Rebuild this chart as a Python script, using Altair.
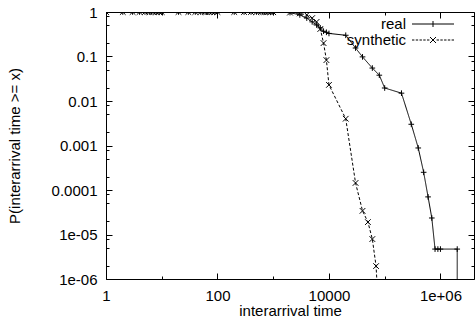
import json
import altair as alt
import pandas as pd

# ---- data ----
real_x = [1, 2, 3, 4, 5, 6, 7, 8, 9, 10,
          20, 30, 40, 50, 60, 70, 80, 90, 100,
          200, 300, 400, 500, 600, 700, 800, 900, 1000,
          2000, 3000, 4000, 5000, 6000, 7000, 8000, 9000, 10000,
          20000, 30000, 40000, 60000, 80000, 100000, 200000,
          300000, 400000, 500000, 600000, 700000, 800000, 900000, 1000000,
          2000000, 2000000]
real_p = [1, 1, 1, 1, 1, 1, 1, 1, 1, 1,
          1, 1, 1, 1, 1, 1, 1, 1, 1,
          1, 1, 1, 1, 1, 1, 1, 1, 0.99,
          0.97, 0.86, 0.73, 0.60, 0.51, 0.44, 0.37, 0.35, 0.33,
          0.30, 0.155, 0.098, 0.055, 0.038, 0.0196, 0.015,
          0.0030, 0.00088, 0.00025, 7.0e-5, 2.35e-5, 4.7e-6, 4.7e-6, 4.7e-6,
          4.7e-6, 1e-7]

synth_x = [1, 2, 3, 4, 5, 6, 7, 8, 9, 10,
           20, 30, 40, 50, 60, 70, 80, 90, 100,
           200, 300, 400, 500, 600, 700, 800, 900, 1000,
           2000, 3000, 4000, 5000, 6000, 7000, 8000, 9000, 10000,
           20000, 30000, 40000, 50000, 60000, 70000, 80000]
synth_p = [1, 1, 1, 1, 1, 1, 1, 1, 1, 1,
           1, 1, 1, 1, 1, 1, 1, 1, 1,
           1, 1, 1, 1, 1, 1, 1, 1, 0.99,
           0.97, 0.93, 0.86, 0.73, 0.60, 0.415, 0.20, 0.083, 0.023,
           0.0040, 1.44e-4, 3.4e-5, 1.9e-5, 7.9e-6, 1.95e-6, 1e-7]

series_names = ["real", "synthetic"]

x_major_ticks = [1, 100, 10000, 1000000]
x_major_labels = ["1", "100", "10000", "1e+06"]
x_minor_ticks = [10, 1000, 100000]

y_major_ticks = [1e-6, 1e-5, 1e-4, 1e-3, 1e-2, 1e-1, 1]
y_major_labels = ["1e-06", "1e-05", "0.0001", "0.001", "0.01", "0.1", "1"]
y_minor_ticks = [2e-6, 5e-6, 8e-6, 2e-5, 5e-5, 8e-5, 2e-4, 5e-4, 8e-4,
                 2e-3, 5e-3, 8e-3, 0.02, 0.05, 0.08, 0.2, 0.5, 0.8]

x_title = "interarrival time"
y_title = "P(interarrival time >= x)"

# ---- table ----
rows = []
for i, (xv, pv) in enumerate(zip(real_x, real_p)):
    rows.append({"x": xv, "p": pv, "series": "real", "idx": i})
for i, (xv, pv) in enumerate(zip(synth_x, synth_p)):
    rows.append({"x": xv, "p": pv, "series": "synthetic", "idx": i})
df = pd.DataFrame(rows)

FONT = "Liberation Sans"
FS = 15

xmaj = json.dumps(x_major_ticks)
ymaj = json.dumps(y_major_ticks)
x_test = f"indexof({xmaj}, datum.value) >= 0"
y_test = f"indexof({ymaj}, datum.value) >= 0"

def tick_size(test):
    return {"condition": {"test": test, "value": -6}, "value": -3}

common_axis = dict(domain=False, grid=False, tickColor="black", tickWidth=1,
                   labelFont=FONT, labelFontSize=FS, labelColor="black",
                   titleFont=FONT, titleFontSize=FS, titleColor="black",
                   titleFontWeight="normal")

x_bottom = alt.Axis(orient="bottom", values=x_major_ticks + x_minor_ticks,
                    tickSize=tick_size(x_test),
                    labelExpr=f"{json.dumps(x_major_labels)}[indexof({xmaj}, datum.value)] || ''",
                    labelPadding=15, labelBaseline="top", labelFlush=False,
                    title=x_title, titleBaseline="alphabetic", titleY=36,
                    **common_axis)
y_left = alt.Axis(orient="left", values=y_major_ticks + y_minor_ticks,
                  tickSize=tick_size(y_test),
                  labelExpr=f"{json.dumps(y_major_labels)}[indexof({ymaj}, datum.value)] || ''",
                  labelPadding=15, labelFlush=False,
                  title=y_title, titleAngle=270, titleBaseline="alphabetic",
                  titleAlign="center", titleX=-87, titleY=133.5,
                  **common_axis)
x_top = alt.Axis(orient="top", values=x_major_ticks + x_minor_ticks,
                 tickSize=tick_size(x_test), labels=False, title=None,
                 domain=False, grid=False, tickColor="black", tickWidth=1)
y_right = alt.Axis(orient="right", values=y_major_ticks + y_minor_ticks,
                   tickSize=tick_size(y_test), labels=False, title=None,
                   domain=False, grid=False, tickColor="black", tickWidth=1)

xscale = alt.Scale(type="log", domain=[1, 4000000])
yscale = alt.Scale(type="log", domain=[1e-6, 1])

# marker shapes (unit paths)
plus_path = "M-1,0H1M0,-1V1"
cross_path = "M-1,-1L1,1M-1,1L1,-1"

# legend samples: line with marker in the middle
def dashed(a, b, dash=0.8, gap=0.45):
    parts = []
    s = a
    while s < b:
        e = min(s + dash, b)
        parts.append(f"M{s:.2f},0H{e:.2f}")
        s = e + gap
    return "".join(parts)

legend_real = "M-7,0H7M0,-1V1"
legend_synth = dashed(-7, -1.2) + cross_path + dashed(1.2, 7)

base = alt.Chart(df)

lines = base.mark_line(color="black", strokeWidth=1, clip=True).encode(
    x=alt.X("x:Q", scale=xscale, axis=x_bottom),
    y=alt.Y("p:Q", scale=yscale, axis=y_left),
    strokeDash=alt.StrokeDash("series:N",
                              scale=alt.Scale(domain=series_names, range=[[1, 0], [3, 2]]),
                              legend=None),
    order="idx:Q",
)

points = base.mark_point(filled=False, color="black", strokeWidth=1, size=32,
                         opacity=1, clip=True).encode(
    x=alt.X("x:Q", scale=xscale, axis=x_top),
    y=alt.Y("p:Q", scale=yscale, axis=y_right),
    shape=alt.Shape("series:N",
                    scale=alt.Scale(domain=series_names, range=[plus_path, cross_path]),
                    legend=None),
)

legend_layer = base.transform_filter("false").mark_point(
    filled=False, color="black", strokeWidth=1, size=36, opacity=1).encode(
    x=alt.X("x:Q", scale=xscale, axis=None),
    y=alt.Y("p:Q", scale=yscale, axis=None),
    shape=alt.Shape("series:N",
                    scale=alt.Scale(domain=series_names, range=[legend_real, legend_synth]),
                    legend=alt.Legend(title=None, orient="none", legendX=319.5, legendY=4.5,
                                      direction="vertical", labelAlign="right",
                                      labelOffset={"expr": "-34.5"}, labelFont=FONT,
                                      labelFontSize=FS,
                                      labelColor="black", labelLimit=300,
                                      symbolSize=36, symbolStrokeWidth=1,
                                      symbolStrokeColor="black", symbolFillColor="transparent",
                                      symbolOpacity=1, rowPadding={"expr": "-1"}, padding=0)),
)

chart = alt.layer(lines, points, legend_layer).resolve_scale(
    shape="independent"
).resolve_axis(
    x="independent", y="independent"
).properties(
    width=368, height=267,
    autosize=alt.AutoSizeParams(type="none"),
    padding={"left": 106, "top": 12, "right": 2, "bottom": 45},
    background="white",
).configure_view(stroke="black", strokeWidth=1)

chart.save("out.html", embed_options={"renderer": "svg", "actions": False})
